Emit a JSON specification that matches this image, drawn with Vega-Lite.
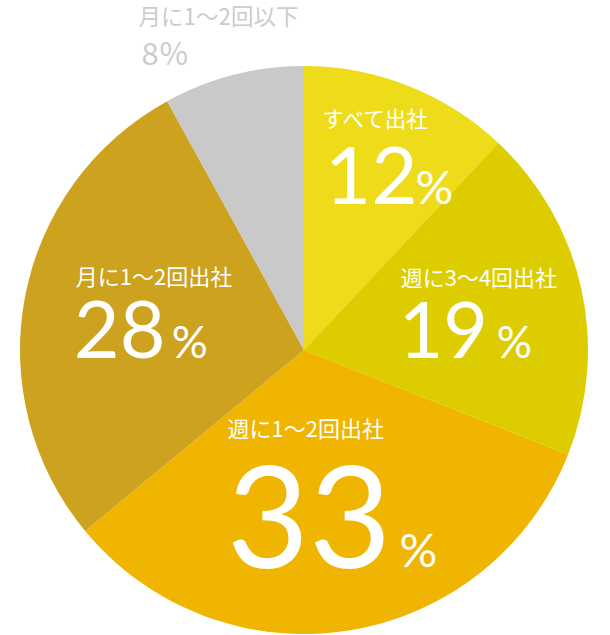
{
  "$schema": "https://vega.github.io/schema/vega-lite/v6.json",
  "width": 568,
  "height": 568,
  "autosize": "none",
  "padding": {"left": 20, "top": 66, "right": 22, "bottom": 1},
  "background": "white",
  "view": {"stroke": null},
  "data": {
    "values": [
      {"cat": "すべて出社", "value": 12, "order": 1},
      {"cat": "週に3〜4回出社", "value": 19, "order": 2},
      {"cat": "週に1〜2回出社", "value": 33, "order": 3},
      {"cat": "月に1〜2回出社", "value": 28, "order": 4},
      {"cat": "月に1〜2回以下", "value": 8, "order": 5}
    ]
  },
  "encoding": {
    "theta": {"field": "value", "type": "quantitative", "stack": true},
    "order": {"field": "order", "type": "quantitative"}
  },
  "layer": [
    {
      "mark": {"type": "arc"},
      "encoding": {
        "color": {
          "field": "cat",
          "type": "nominal",
          "legend": null,
          "scale": {
            "domain": ["すべて出社", "週に3〜4回出社", "週に1〜2回出社", "月に1〜2回出社", "月に1〜2回以下"],
            "range": ["#eedc1a", "#ddcd00", "#f0b500", "#cca21f", "#c9c9c9"]
          }
        }
      }
    },
    {
      "mark": {"type": "text", "radius": 200, "align": "left", "baseline": "alphabetic", "dx": -55, "dy": -37, "font": "Noto Sans CJK JP", "fontSize": 21.5, "color": "white"},
      "encoding": {"text": {"condition": {"test": "datum.order === 1", "field": "cat", "type": "nominal"}, "value": ""}}
    },
    {
      "mark": {"type": "text", "radius": 200, "align": "right", "baseline": "alphabetic", "dx": 40, "dy": 40, "font": "Lato", "fontSize": 80, "color": "white"},
      "encoding": {"text": {"condition": {"test": "datum.order === 1", "field": "value", "type": "quantitative"}, "value": ""}}
    },
    {
      "mark": {"type": "text", "radius": 200, "align": "left", "baseline": "alphabetic", "dx": 38, "dy": 40, "font": "Lato", "fontSize": 47, "color": "white"},
      "encoding": {"text": {"condition": {"test": "datum.order === 1", "value": "%"}, "value": ""}}
    },
    {
      "mark": {"type": "text", "radius": 180, "align": "left", "baseline": "alphabetic", "dx": -79, "dy": -25, "font": "Noto Sans CJK JP", "fontSize": 22, "color": "white"},
      "encoding": {"text": {"condition": {"test": "datum.order === 2", "field": "cat", "type": "nominal"}, "value": ""}}
    },
    {
      "mark": {"type": "text", "radius": 180, "align": "left", "baseline": "alphabetic", "dx": -81, "dy": 47, "font": "Lato", "fontSize": 77, "color": "white"},
      "encoding": {"text": {"condition": {"test": "datum.order === 2", "field": "value", "type": "quantitative"}, "value": ""}}
    },
    {
      "mark": {"type": "text", "radius": 180, "align": "left", "baseline": "alphabetic", "dx": 17, "dy": 47, "font": "Lato", "fontSize": 44, "color": "white"},
      "encoding": {"text": {"condition": {"test": "datum.order === 2", "value": "%"}, "value": ""}}
    },
    {
      "mark": {"type": "text", "radius": 150, "align": "left", "baseline": "alphabetic", "dx": -100, "dy": -61, "font": "Noto Sans CJK JP", "fontSize": 22, "color": "white"},
      "encoding": {"text": {"condition": {"test": "datum.order === 3", "field": "cat", "type": "nominal"}, "value": ""}}
    },
    {
      "mark": {"type": "text", "radius": 150, "align": "right", "baseline": "alphabetic", "dx": 64, "dy": 70, "font": "Lato", "fontSize": 142, "color": "white"},
      "encoding": {"text": {"condition": {"test": "datum.order === 3", "field": "value", "type": "quantitative"}, "value": ""}}
    },
    {
      "mark": {"type": "text", "radius": 150, "align": "left", "baseline": "alphabetic", "dx": 72, "dy": 69, "font": "Lato", "fontSize": 47, "color": "white"},
      "encoding": {"text": {"condition": {"test": "datum.order === 3", "value": "%"}, "value": ""}}
    },
    {
      "mark": {"type": "text", "radius": 160, "align": "left", "baseline": "alphabetic", "dx": -71, "dy": -35, "font": "Noto Sans CJK JP", "fontSize": 22, "color": "white"},
      "encoding": {"text": {"condition": {"test": "datum.order === 4", "field": "cat", "type": "nominal"}, "value": ""}}
    },
    {
      "mark": {"type": "text", "radius": 160, "align": "left", "baseline": "alphabetic", "dx": -73, "dy": 38, "font": "Lato", "fontSize": 79, "color": "white"},
      "encoding": {"text": {"condition": {"test": "datum.order === 4", "field": "value", "type": "quantitative"}, "value": ""}}
    },
    {
      "mark": {"type": "text", "radius": 160, "align": "left", "baseline": "alphabetic", "dx": 25, "dy": 38, "font": "Lato", "fontSize": 45, "color": "white"},
      "encoding": {"text": {"condition": {"test": "datum.order === 4", "value": "%"}, "value": ""}}
    },
    {
      "mark": {"type": "text", "radius": 320, "align": "left", "baseline": "alphabetic", "dx": -86, "dy": -15, "font": "Noto Sans CJK JP", "fontSize": 22.5, "color": "#cccccc"},
      "encoding": {"text": {"condition": {"test": "datum.order === 5", "field": "cat", "type": "nominal"}, "value": ""}}
    },
    {
      "mark": {"type": "text", "radius": 320, "align": "left", "baseline": "alphabetic", "dx": -83, "dy": 25, "font": "Noto Sans CJK JP", "fontSize": 31, "color": "#cccccc"},
      "encoding": {"text": {"condition": {"test": "datum.order === 5", "field": "value", "type": "quantitative"}, "value": ""}}
    },
    {
      "mark": {"type": "text", "radius": 320, "align": "left", "baseline": "alphabetic", "dx": -65, "dy": 25, "font": "Noto Sans CJK JP", "fontSize": 31, "color": "#cccccc"},
      "encoding": {"text": {"condition": {"test": "datum.order === 5", "value": "%"}, "value": ""}}
    }
  ]
}
